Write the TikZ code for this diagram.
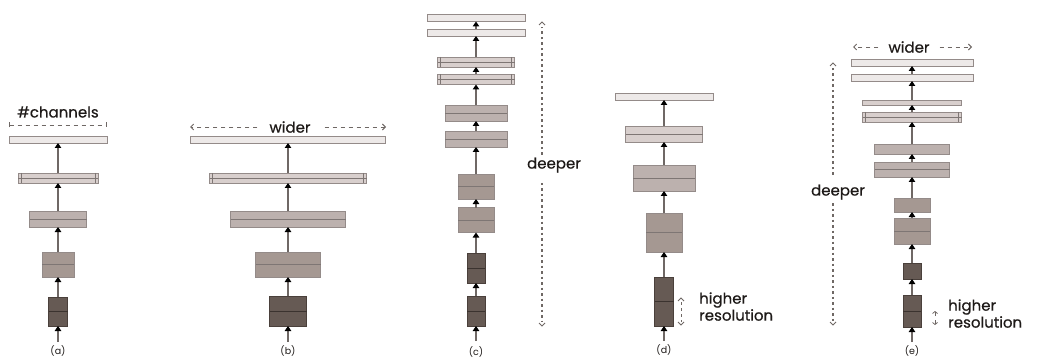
\documentclass[tikz,border=0pt]{standalone}
\usepackage{fontspec}
\setmainfont{Poppins}
\newfontfamily\lf{Poppins}[BoldFont={Poppins},BoldFeatures={FakeBold=0.5}]
\usetikzlibrary{arrows.meta}
\definecolor{cA}{HTML}{EDE9E8}
\definecolor{cB}{HTML}{D8CFCD}
\definecolor{cC}{HTML}{BCB1AE}
\definecolor{cD}{HTML}{A59892}
\definecolor{cE}{HTML}{665A54}
\definecolor{bL}{HTML}{948B89}
\definecolor{bD}{HTML}{4A403B}
\definecolor{linegray}{HTML}{6F6865}
\definecolor{txt}{HTML}{1E1A18}
\tikzset{
  blk/.style={draw=bL, line width=0.8pt, inner sep=0pt, outer sep=0pt, rectangle},
  darkblk/.style={blk, draw=bD, fill=cE},
  conn/.style={draw=linegray, line width=1.1pt, -{Triangle[width=6.5pt,length=5pt,color=black]}},
  inner/.style={draw=bL!85!black, line width=0.6pt},
  innerd/.style={draw=bD!80!black, line width=0.6pt},
  lbl/.style={font=\lf\bfseries\fontsize{15}{15}\selectfont, text=txt, inner sep=0pt},
  captxt/.style={font=\fontsize{9.5}{9.5}\selectfont, text=txt, inner sep=0pt},
  dim/.style={draw=linegray, line width=0.9pt, dash pattern=on 4pt off 4pt},
  dotl/.style={draw=linegray, line width=1.8pt, dash pattern=on 2.5pt off 3pt},
  chev/.style={draw=linegray, line width=0.8pt},
}
\newcommand\bx[6]{\node[#6, minimum width=#4, minimum height=#5] (#1) at (#2,#3) {};}
\newcommand\midl[1]{\draw[inner] (#1.west) -- (#1.east);}
\newcommand\midd[1]{\draw[innerd] (#1.west) -- (#1.east);}
\newcommand\band[1]{\draw[inner] (#1.west) -- (#1.east);
  \draw[inner] ([xshift=3pt]#1.north west) -- ([xshift=3pt]#1.south west);
  \draw[inner] ([xshift=-3pt]#1.north east) -- ([xshift=-3pt]#1.south east);}
\begin{document}
\begin{tikzpicture}[x=1pt,y=-1pt]
\useasboundingbox (0,0) rectangle (1038,358);
% ---------------- (a)
\bx{a1}{58}{139.5}{98}{7}{blk,fill=cA}
\bx{a2}{58}{178}{80}{10}{blk,fill=cB}\band{a2}
\bx{a3}{58}{219}{57}{16}{blk,fill=cC}\midl{a3}
\bx{a4}{58}{264.5}{32}{25}{blk,fill=cD}\midl{a4}
\bx{a5}{58}{311.5}{19}{29}{darkblk}\midd{a5}
\coordinate (a0) at (58,342);
\draw[conn] (a0) -- (a5.south);
\foreach \i/\j in {5/4,4/3,3/2,2/1} \draw[conn] (a\i.north) -- (a\j.south);
\node[captxt] (acap) at (58,351) {(a)};
\node[lbl] (ach) at (58,112) {\#channels};
\coordinate (adl) at (9,125); \coordinate (adr) at (107,125);
\draw[dim, {Bar[width=5pt]}-{Bar[width=5pt]}] (adl) -- (adr);
% ---------------- (b)
\bx{b1}{288}{139.5}{195}{7}{blk,fill=cA}
\bx{b2}{288}{178}{157}{10}{blk,fill=cB}\band{b2}
\bx{b3}{288}{219}{115}{16}{blk,fill=cC}\midl{b3}
\bx{b4}{288}{264.5}{65}{25}{blk,fill=cD}\midl{b4}
\bx{b5}{288}{311}{37}{30}{darkblk}\midd{b5}
\coordinate (b0) at (288,342);
\draw[conn] (b0) -- (b5.south);
\foreach \i/\j in {5/4,4/3,3/2,2/1} \draw[conn] (b\i.north) -- (b\j.south);
\node[captxt] (bcap) at (288,351) {(b)};
\node[lbl] (bw) at (290,127) {wider};
\coordinate (bl) at (190,127); \coordinate (br) at (386,127);
\draw[dim, -{Straight Barb[length=3pt,width=6pt]}] (bw.west) ++(-12,0) -- (bl);
\draw[dim, -{Straight Barb[length=3pt,width=6pt]}] (bw.east) ++(14,0) -- (br);
% ---------------- (c)
\bx{c1}{476}{18}{98}{7}{blk,fill=cA}
\bx{c2}{476}{32.5}{98}{7}{blk,fill=cA}
\bx{c3}{476}{62}{77}{10}{blk,fill=cB}\band{c3}
\bx{c4}{476}{79.5}{77}{10}{blk,fill=cB}\band{c4}
\bx{c5}{476}{113}{62}{16}{blk,fill=cC}\midl{c5}
\bx{c6}{476}{139}{62}{16}{blk,fill=cC}\midl{c6}
\bx{c7}{476}{186.5}{36}{25}{blk,fill=cD}\midl{c7}
\bx{c8}{476}{220}{36}{25}{blk,fill=cD}\midl{c8}
\bx{c9}{476}{268}{18}{30}{darkblk}\midd{c9}
\bx{c10}{476}{311}{18}{30}{darkblk}\midd{c10}
\coordinate (c0) at (476,341);
\draw[conn] (c0) -- (c10.south);
\foreach \i/\j in {10/9,9/8,8/7,7/6,6/5,5/4,4/3,3/2,2/1} \draw[conn] (c\i.north) -- (c\j.south);
\node[captxt] (ccap) at (476,352) {(c)};
\node[lbl] (cdeep) at (554,165) {deeper};
\draw[dotl] (542,155) -- (542,27);
\draw[dotl] (542,183) -- (542,321);
\draw[chev] (539,25) -- (542,22) -- (545,25);
\draw[chev] (539,323) -- (542,326) -- (545,323);
% ---------------- (d)
\bx{d1}{664}{96.5}{98}{7}{blk,fill=cA}
\bx{d2}{664}{134}{77}{16}{blk,fill=cB}\midl{d2}
\bx{d3}{664}{178}{62}{26}{blk,fill=cC}\midl{d3}
\bx{d4}{664}{232.5}{36}{39}{blk,fill=cD}\midl{d4}
\bx{d5}{664}{301.5}{19}{49}{darkblk}\midd{d5}
\coordinate (d0) at (664,341);
\draw[conn] (d0) -- (d5.south);
\foreach \i/\j in {5/4,4/3,3/2,2/1} \draw[conn] (d\i.north) -- (d\j.south);
\node[captxt] (dcap) at (664,350) {(d)};
\node[lbl, anchor=west] (dh) at (699,300) {higher};
\node[lbl, anchor=west] (dr) at (699,315) {resolution};
\draw[draw=linegray, line width=1pt, dash pattern=on 3pt off 3pt] (681,302) -- (681,322);
\draw[chev] (678,301) -- (681,298) -- (684,301);
\draw[chev] (678,322) -- (681,325) -- (684,322);
% ---------------- (e)
\bx{e1}{912}{62.5}{122}{7}{blk,fill=cA}
\bx{e2}{912}{77.5}{122}{7}{blk,fill=cA}
\bx{e3}{912}{102.5}{99}{5}{blk,fill=cB}
\bx{e4}{912}{117}{99}{10}{blk,fill=cB}\band{e4}
\bx{e5}{912}{149}{75}{10}{blk,fill=cC}
\bx{e6}{912}{169.5}{75}{15}{blk,fill=cC}\midl{e6}
\bx{e7}{912}{205}{36}{14}{blk,fill=cD}
\bx{e8}{912}{231}{36}{26}{blk,fill=cD}\midl{e8}
\bx{e9}{912}{271}{18}{16}{darkblk}
\bx{e10}{912}{311}{18}{32}{darkblk}\midd{e10}
\coordinate (e0) at (912,342);
\draw[conn] (e0) -- (e10.south);
\foreach \i/\j in {10/9,9/8,8/7,7/6,6/5,5/4,4/3,3/2,2/1} \draw[conn] (e\i.north) -- (e\j.south);
\node[captxt] (ecap) at (912,351) {(e)};
\node[lbl] (ew) at (909,47) {wider};
\draw[dim, -{Straight Barb[length=3pt,width=6pt]}] (ew.west) ++(-10,0) -- (853,47);
\draw[dim, -{Straight Barb[length=3pt,width=6pt]}] (ew.east) ++(10,0) -- (972,47);
\node[lbl] (edeep) at (838,192) {deeper};
\draw[dotl] (833,175) -- (833,67);
\draw[dotl] (833,203) -- (833,321);
\draw[chev] (830,66) -- (833,63) -- (836,66);
\draw[chev] (830,322) -- (833,325) -- (836,322);
\node[lbl, anchor=west] (eh) at (948,307) {higher};
\node[lbl, anchor=west] (er) at (948,322) {resolution};
\draw[chev, -{Straight Barb[length=2pt,width=5pt]}] (935,316) -- (935,311);
\draw[chev, -{Straight Barb[length=2pt,width=5pt]}] (935,320) -- (935,325);
\end{tikzpicture}
\end{document}
